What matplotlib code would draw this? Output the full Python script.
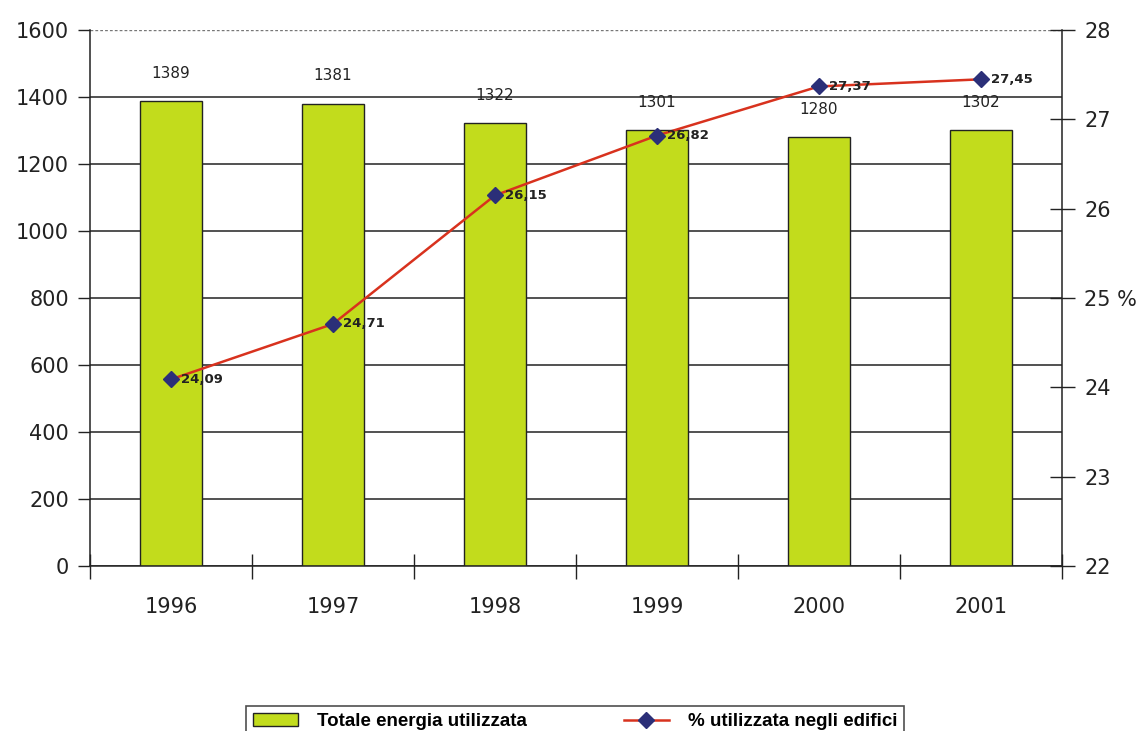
import matplotlib
matplotlib.use("Agg")
import matplotlib.pyplot as plt
from matplotlib.lines import Line2D
from matplotlib.patches import Patch
import numpy as np

years = ["1996", "1997", "1998", "1999", "2000", "2001"]
total_energy = [1389, 1381, 1322, 1301, 1280, 1302]
pct_buildings = [24.09, 24.71, 26.15, 26.82, 27.37, 27.45]
right_tick_labels = ["22", "23", "24", "25 %", "26", "27", "28"]

bar_color = "#c2dc1c"
line_color = "#d8321e"
marker_color = "#2b2f78"
ink = "#222222"

plt.rcParams["font.family"] = ["DejaVu Sans"]

fig = plt.figure(figsize=(11.42, 7.31), dpi=100)
ax = fig.add_axes([0.0788, 0.2257, 0.851, 0.733])

x = np.arange(len(years))
ax.set_axisbelow(True)
ax.bar(x, total_energy, width=0.38, color=bar_color, edgecolor=ink,
       linewidth=1.0, zorder=2)
for xi, v in zip(x, total_energy):
    ax.text(xi, v + 60, f"{v}", ha="center", va="bottom", fontsize=11,
            color=ink)

ax.set_xlim(-0.5, len(years) - 0.5)
ax.set_ylim(0, 1600)
ax.set_yticks(np.arange(0, 1601, 200))
ax.tick_params(axis="y", labelsize=15, length=9, width=1.0, colors=ink,
               pad=6)
ax.set_xticks(x)
ax.set_xticklabels(years, fontsize=15, color=ink)
ax.set_xticks(np.arange(-0.5, len(years), 1.0), minor=True)
ax.tick_params(axis="x", which="major", length=0, pad=22)
ax.tick_params(axis="x", which="minor", direction="inout", length=18,
               width=1.0, color=ink)
ax.yaxis.grid(True, color=ink, linewidth=1.1)
# the top gridline is drawn as a light dotted rule
top_grid = ax.get_ygridlines()[-1]
top_grid.set_linestyle((0, (2, 1.5)))
top_grid.set_color("#777777")
top_grid.set_linewidth(1.0)
ax.spines["top"].set_visible(False)
for side in ("left", "bottom"):
    ax.spines[side].set_color(ink)
    ax.spines[side].set_linewidth(1.1)
ax.spines["right"].set_visible(False)

ax2 = ax.twinx()
ax2.plot(x, pct_buildings, color=line_color, linewidth=1.8, marker="D",
         markersize=8, markerfacecolor=marker_color,
         markeredgecolor=marker_color, zorder=5)
for xi, v in zip(x, pct_buildings):
    ax2.text(xi + 0.06, v, f"{v:.2f}".replace(".", ","), ha="left",
             va="center", fontsize=9.5, fontweight="bold", color=ink,
             zorder=6)
ax2.set_ylim(22, 28)
ax2.set_yticks(np.arange(22, 29, 1))
ax2.set_yticklabels(right_tick_labels)
ax2.tick_params(axis="y", direction="inout", length=18, width=1.0,
                labelsize=15, colors=ink, pad=7)
for side in ("top", "left", "bottom"):
    ax2.spines[side].set_visible(False)
ax2.spines["right"].set_color(ink)
ax2.spines["right"].set_linewidth(1.1)

handles = [
    Patch(facecolor=bar_color, edgecolor=ink, linewidth=1.0),
    Line2D([0], [0], color=line_color, linewidth=1.8, marker="D",
           markersize=8, markerfacecolor=marker_color,
           markeredgecolor=marker_color),
]
labels = ["Totale energia utilizzata", "% utilizzata negli edifici"]
leg = fig.legend(handles, labels, loc="upper center",
                 bbox_to_anchor=(0.5035, 1 - 697 / 731), ncol=2,
                 frameon=True, fancybox=False, edgecolor=ink,
                 prop={"family": "Liberation Sans", "weight": "bold",
                       "size": 13.5},
                 columnspacing=5.2, handlelength=2.4, borderpad=0.35,
                 handletextpad=1.0)
leg.get_frame().set_linewidth(1.2)

fig.savefig("out.png", dpi=100, facecolor="white")
